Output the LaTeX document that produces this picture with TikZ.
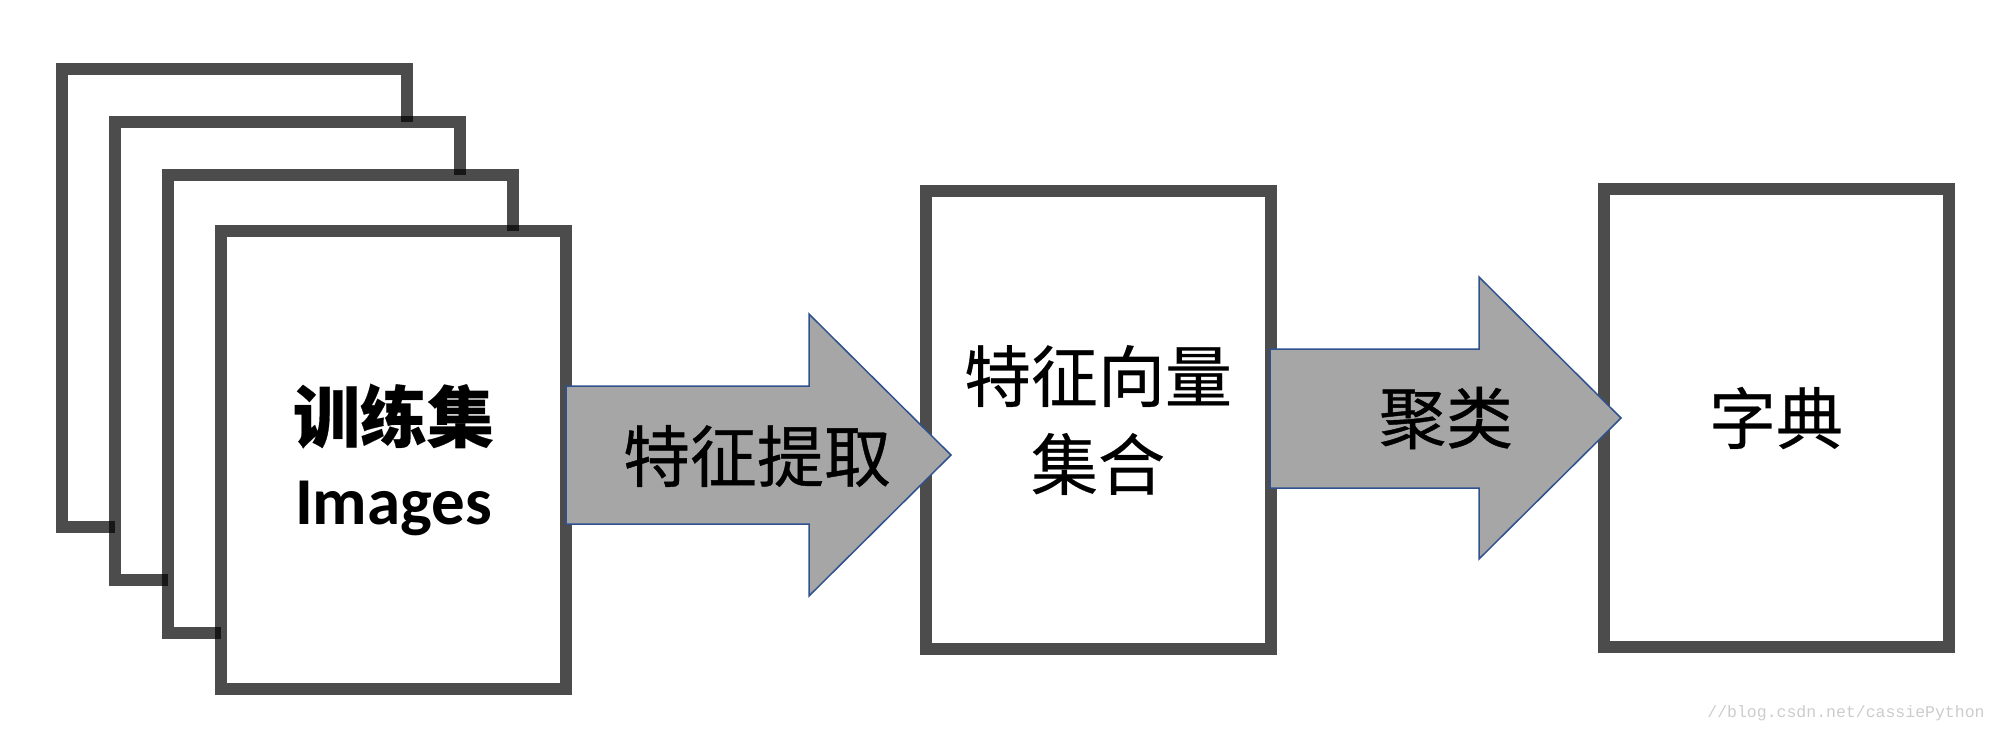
\documentclass[tikz,border=0pt]{standalone}
\usepackage{fontspec}
\usepackage{xcolor}
\newfontfamily\cjk{Noto Sans CJK SC}[FakeBold=0.6]
\newfontfamily\cjkbold{Noto Sans CJK SC Bold}
\newfontfamily\calib{Carlito}
\newfontfamily\wmark{Liberation Mono}
\definecolor{arrowblue}{HTML}{2F528F}
\definecolor{arrowgray}{HTML}{A6A6A6}
\usetikzlibrary{arrows.meta}

\begin{document}
\begin{tikzpicture}[
    x=1pt, y=-1pt,
    page/.style={rectangle, draw=black, draw opacity=0.7, fill=white, line width=12pt, minimum width=345pt, minimum height=458pt, inner sep=0pt},
    stage/.style={page, align=center, font=\cjk\fontsize{67}{88}\selectfont},
    flow/.style={draw=arrowblue, fill=arrowgray, line width=1.5pt, line join=miter},
    flowtext/.style={font=\cjk\fontsize{67}{67}\selectfont, inner sep=0pt}
]
    \useasboundingbox (0,0) rectangle (1997,732);

    % Stack of training images
    \node[page] (page1) at (234.5,298) {};
    \node[page] (page2) at (287.5,351) {};
    \node[page] (page3) at (340.5,404) {};
    \node[page, align=center, font=\fontsize{67}{83}\selectfont] (train) at (393.5,460)
        {{\cjk\bfseries 训练集}\\{\calib\bfseries Images}};

    % Feature set and dictionary
    \node[stage] (features) at (1098,420) {特征向量\\集合};
    \node[stage] (dict) at (1776,418) {字典};

    % Block arrows
    \draw[flow] (566,386) -- (809,386) -- (809,314) -- (951,455) -- (809,596) -- (809,524) -- (566,524) -- cycle;
    \node[flowtext] (extract) at (757,456) {特征提取};

    \draw[flow] (1270,349) -- (1479,349) -- (1479,277) -- (1621,418) -- (1479,559) -- (1479,488) -- (1270,488) -- cycle;
    \node[flowtext] (cluster) at (1446,418) {聚类};

    \node[font=\wmark\fontsize{16.5}{18}\selectfont, text=black!20, inner sep=0pt] (mark) at (1846,713) {//blog.csdn.net/cassiePython};
\end{tikzpicture}
\end{document}
